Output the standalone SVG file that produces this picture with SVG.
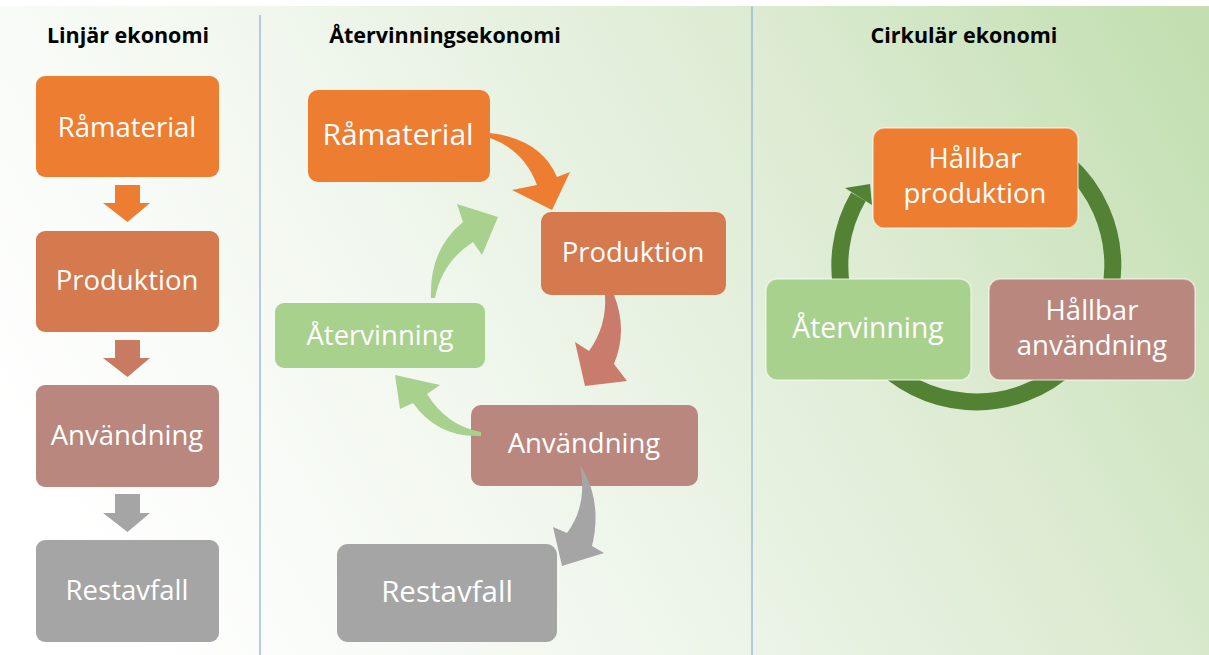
<svg xmlns="http://www.w3.org/2000/svg" width="1209" height="655" viewBox="0 0 1209 655">
  <defs>
    <linearGradient id="bg" gradientUnits="userSpaceOnUse" x1="120" y1="640" x2="1180" y2="20">
      <stop offset="0" stop-color="#ffffff"/>
      <stop offset="0.35" stop-color="#f1f7ee"/>
      <stop offset="0.7" stop-color="#dcebd2"/>
      <stop offset="1" stop-color="#c3dfb1"/>
    </linearGradient>
    <style>
      .title { font-family: "Open Sans", "Noto Sans", sans-serif; font-weight: bold; font-size: 21.5px; fill: #000; text-anchor: middle; }
      .lbl { font-family: "Open Sans", "Noto Sans", sans-serif; font-size: 27.5px; fill: #fff; text-anchor: middle; }
      .orange { fill: #ed7d31; }
      .prod { fill: #d5794f; }
      .anv { fill: #b9877d; }
      .rest { fill: #a5a5a5; }
      .green { fill: #a9d18e; }
      .edge { stroke: #ffffff; stroke-opacity: 0.55; stroke-width: 1.5; }
      .divider { stroke: #8faadc; stroke-width: 1.2; }
    </style>
  </defs>

  <rect x="0" y="0" width="1209" height="655" fill="#ffffff"/>
  <rect x="0" y="6" width="1209" height="649" fill="url(#bg)"/>

  <line class="divider" x1="260" y1="15" x2="260" y2="655"/>
  <line class="divider" x1="752" y1="6" x2="752" y2="655"/>

  <text class="title" x="128" y="43">Linjär ekonomi</text>
  <text class="title" x="445" y="43">Återvinningsekonomi</text>
  <text class="title" x="964" y="43">Cirkulär ekonomi</text>

  <!-- Linear economy nodes -->
  <g id="lin-ramaterial">
    <rect class="orange" x="36" y="76" width="183" height="101" rx="9"/>
    <text class="lbl" x="127" y="137">Råmaterial</text>
  </g>
  <g id="lin-produktion">
    <rect class="prod" x="36" y="231" width="183" height="101" rx="9"/>
    <text class="lbl" x="127" y="290">Produktion</text>
  </g>
  <g id="lin-anvandning">
    <rect class="anv" x="36" y="385" width="183" height="102" rx="9"/>
    <text class="lbl" x="127" y="445">Användning</text>
  </g>
  <g id="lin-restavfall">
    <rect class="rest" x="36" y="540" width="183" height="102" rx="9"/>
    <text class="lbl" x="127" y="600">Restavfall</text>
  </g>

  <!-- Recycling economy nodes -->
  <g id="rec-ramaterial">
    <rect class="orange" x="308" y="90" width="182" height="92" rx="10"/>
    <text class="lbl" x="398" y="145" style="font-size:30px">Råmaterial</text>
  </g>
  <g id="rec-produktion">
    <rect class="prod" x="541" y="212" width="185" height="83" rx="10"/>
    <text class="lbl" x="633" y="262">Produktion</text>
  </g>
  <g id="rec-atervinning">
    <rect class="green" x="275" y="303" width="210" height="65" rx="9"/>
    <text class="lbl" x="380" y="345">Återvinning</text>
  </g>
  <g id="rec-anvandning">
    <rect class="anv" x="471" y="405" width="227" height="81" rx="10"/>
    <text class="lbl" x="584" y="453">Användning</text>
  </g>
  <g id="rec-restavfall">
    <rect class="rest" x="337" y="544" width="220" height="98" rx="11"/>
    <text class="lbl" x="447" y="602" style="font-size:29.5px">Restavfall</text>
  </g>

  <!-- Connectors -->
  <g id="connectors">
    <!-- linear -->
    <polygon class="orange" points="115,185 140,185 140,203 150,203 127.5,222 103,203 115,203"/>
    <polygon fill="#c97b62" points="115,340 140,340 140,358 150,358 127.5,377 103,358 115,358"/>
    <polygon class="rest" points="115,494 140,494 140,513 150,513 127.5,532 103,513 115,513"/>
    <!-- recycling -->
    <path class="orange" d="M490,133 Q541,139 557,177 L570,172 L552,210 L512,190 L537,185 Q524,150 490,138 Z"/>
    <path fill="#c97c6c" d="M605,295 L614,295 Q628,330 614,364 L627,381 L585,386 L575,342 L589,351 Q607,326 605,295 Z"/>
    <path class="green" d="M431,298 Q429,250 463,222 L457,204 L498,217 L482,255 L473,242 Q442,262 435,298 Z"/>
    <path class="green" d="M481,436 Q438,438 413,403 L400,409 L395,375 L440,385 L427,394 Q447,426 481,432 Z"/>
    <path class="rest" d="M580,465 Q603,500 592,546 L604,553 L562,566 L553,527 L567,533 Q588,505 580,465 Z"/>
    <!-- circular -->
    <path d="M1021.7,136.7 A136.5 136.5 0 1 1 858.4,196.7" fill="none" stroke="#548235" stroke-width="17"/>
    <polygon fill="#548235" points="845,188 870,184 872,205"/>
  </g>

  <!-- Circular economy nodes -->
  <g id="circ-produktion">
    <rect class="orange edge" x="873" y="128" width="205" height="100" rx="11"/>
    <text class="lbl" x="975" y="168">Hållbar</text>
    <text class="lbl" x="975" y="203">produktion</text>
  </g>
  <g id="circ-atervinning">
    <rect class="green edge" x="766" y="279" width="205" height="101" rx="11"/>
    <text class="lbl" x="868" y="338" style="font-size:28.3px">Återvinning</text>
  </g>
  <g id="circ-anvandning">
    <rect class="anv edge" x="989" y="279" width="206" height="101" rx="11"/>
    <text class="lbl" x="1092" y="320">Hållbar</text>
    <text class="lbl" x="1092" y="355">användning</text>
  </g>
</svg>
